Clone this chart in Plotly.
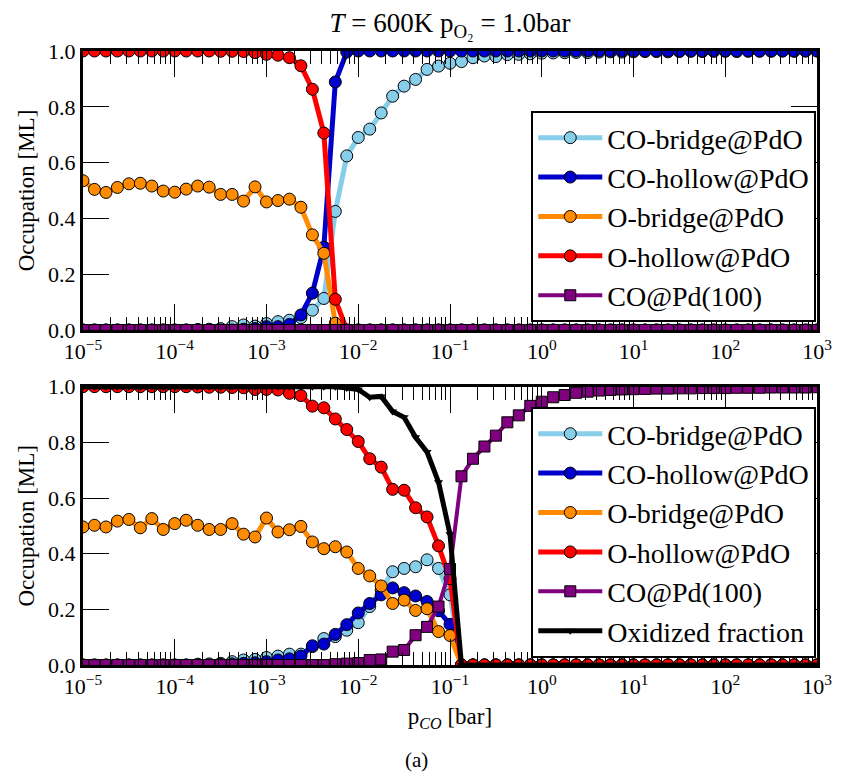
import plotly.graph_objects as go

# ---------------- data ----------------
log10_p_co = [
    -5.000, -4.875, -4.750, -4.625, -4.500, -4.375, -4.250, -4.125,
    -4.000, -3.875, -3.750, -3.625, -3.500, -3.375, -3.250, -3.125,
    -3.000, -2.875, -2.750, -2.625, -2.500, -2.375, -2.250, -2.125,
    -2.000, -1.875, -1.750, -1.625, -1.500, -1.375, -1.250, -1.125,
    -1.000, -0.875, -0.750, -0.625, -0.500, -0.375, -0.250, -0.125,
    0.000, 0.125, 0.250, 0.375, 0.500, 0.625, 0.750, 0.875,
    1.000, 1.125, 1.250, 1.375, 1.500, 1.625, 1.750, 1.875,
    2.000, 2.125, 2.250, 2.375, 2.500, 2.625, 2.750, 2.875,
    3.000,
]
p_co = [10 ** e for e in log10_p_co]

# top panel
co_bridge_top = [
    0.0, 0.0, 0.0, 0.0, 0.0, 0.0, 0.0, 0.0, 0.0, 0.0,
    0.002, 0.003, 0.005, 0.012, 0.018, 0.014, 0.023, 0.030, 0.035, 0.044,
    0.071, 0.113, 0.425, 0.624, 0.690, 0.720, 0.778, 0.838, 0.874, 0.898,
    0.934, 0.946, 0.956, 0.962, 0.976, 0.982, 0.980, 0.987, 0.988, 0.990,
    0.992, 0.993, 0.994, 0.995, 0.994, 0.996, 0.997, 0.996, 0.997, 0.998,
    0.998, 0.997, 0.998, 0.999, 0.998, 0.999, 0.999, 0.998, 0.999, 0.999,
    0.999, 1.000, 0.999, 1.000, 1.000,
]
co_hollow_top = [
    0.0, 0.0, 0.0, 0.0, 0.0, 0.0, 0.0, 0.0, 0.0, 0.0,
    0.0, 0.0, 0.0, 0.0, 0.003, 0.005, 0.012, 0.012, 0.020, 0.054,
    0.132, 0.297, 0.889, 0.996, 1.0, 1.0, 1.0, 1.0, 1.0, 1.0,
    1.0, 1.0, 1.0, 1.0, 1.0, 1.0, 1.0, 1.0, 1.0, 1.0,
    1.0, 1.0, 1.0, 1.0, 1.0, 1.0, 1.0, 1.0, 1.0, 1.0,
    1.0, 1.0, 1.0, 1.0, 1.0, 1.0, 1.0, 1.0, 1.0, 1.0,
    1.0, 1.0, 1.0, 1.0, 1.0,
]
o_bridge_top = [
    0.535, 0.504, 0.493, 0.511, 0.524, 0.526, 0.516, 0.498, 0.494, 0.505,
    0.516, 0.512, 0.486, 0.486, 0.462, 0.513, 0.459, 0.464, 0.469, 0.440,
    0.341, 0.275, 0.024, 0.0, 0.0, 0.0, 0.0, 0.0, 0.0, 0.0,
    0.0, 0.0, 0.0, 0.0, 0.0, 0.0, 0.0, 0.0, 0.0, 0.0,
    0.0, 0.0, 0.0, 0.0, 0.0, 0.0, 0.0, 0.0, 0.0, 0.0,
    0.0, 0.0, 0.0, 0.0, 0.0, 0.0, 0.0, 0.0, 0.0, 0.0,
    0.0, 0.0, 0.0, 0.0, 0.0,
]
o_hollow_top = [
    1.0, 1.0, 1.0, 1.0, 1.0, 1.0, 1.0, 1.0, 1.0, 1.0,
    1.0, 1.0, 0.999, 0.999, 0.998, 0.994, 0.988, 0.985, 0.976, 0.947,
    0.863, 0.706, 0.110, 0.0, 0.0, 0.0, 0.0, 0.0, 0.0, 0.0,
    0.0, 0.0, 0.0, 0.0, 0.0, 0.0, 0.0, 0.0, 0.0, 0.0,
    0.0, 0.0, 0.0, 0.0, 0.0, 0.0, 0.0, 0.0, 0.0, 0.0,
    0.0, 0.0, 0.0, 0.0, 0.0, 0.0, 0.0, 0.0, 0.0, 0.0,
    0.0, 0.0, 0.0, 0.0, 0.0,
]
co_pd_top = [
    0.0, 0.0, 0.0, 0.0, 0.0, 0.0, 0.0, 0.0, 0.0, 0.0,
    0.0, 0.0, 0.0, 0.0, 0.0, 0.0, 0.0, 0.0, 0.0, 0.0,
    0.0, 0.0, 0.0, 0.0, 0.0, 0.0, 0.0, 0.0, 0.0, 0.0,
    0.0, 0.0, 0.0, 0.0, 0.0, 0.0, 0.0, 0.0, 0.0, 0.0,
    0.0, 0.0, 0.0, 0.0, 0.0, 0.0, 0.0, 0.0, 0.0, 0.0,
    0.0, 0.0, 0.0, 0.0, 0.0, 0.0, 0.0, 0.0, 0.0, 0.0,
    0.0, 0.0, 0.0, 0.0, 0.0,
]

# bottom panel
co_bridge_bot = [
    0.0, 0.0, 0.0, 0.0, 0.0, 0.0, 0.0, 0.0, 0.0, 0.0,
    0.003, 0.004, 0.006, 0.012, 0.018, 0.020, 0.027, 0.032, 0.039, 0.039,
    0.066, 0.095, 0.102, 0.125, 0.152, 0.210, 0.270, 0.335, 0.347, 0.353,
    0.378, 0.347, 0.252, 0.0, 0.0, 0.0, 0.0, 0.0, 0.0, 0.0,
    0.0, 0.0, 0.0, 0.0, 0.0, 0.0, 0.0, 0.0, 0.0, 0.0,
    0.0, 0.0, 0.0, 0.0, 0.0, 0.0, 0.0, 0.0, 0.0, 0.0,
    0.0, 0.0, 0.0, 0.0, 0.0,
]
co_hollow_bot = [
    0.0, 0.0, 0.0, 0.0, 0.0, 0.0, 0.0, 0.0, 0.0, 0.0,
    0.0, 0.0, 0.002, 0.004, 0.006, 0.008, 0.012, 0.018, 0.022, 0.032,
    0.069, 0.075, 0.110, 0.145, 0.187, 0.221, 0.252, 0.277, 0.260, 0.248,
    0.228, 0.195, 0.146, 0.0, 0.0, 0.0, 0.0, 0.0, 0.0, 0.0,
    0.0, 0.0, 0.0, 0.0, 0.0, 0.0, 0.0, 0.0, 0.0, 0.0,
    0.0, 0.0, 0.0, 0.0, 0.0, 0.0, 0.0, 0.0, 0.0, 0.0,
    0.0, 0.0, 0.0, 0.0, 0.0,
]
o_bridge_bot = [
    0.496, 0.502, 0.496, 0.517, 0.523, 0.493, 0.526, 0.487, 0.508, 0.520,
    0.502, 0.487, 0.487, 0.508, 0.470, 0.460, 0.528, 0.478, 0.486, 0.498,
    0.442, 0.418, 0.425, 0.406, 0.347, 0.320, 0.284, 0.221, 0.233, 0.196,
    0.202, 0.120, 0.106, 0.0, 0.0, 0.0, 0.0, 0.0, 0.0, 0.0,
    0.0, 0.0, 0.0, 0.0, 0.0, 0.0, 0.0, 0.0, 0.0, 0.0,
    0.0, 0.0, 0.0, 0.0, 0.0, 0.0, 0.0, 0.0, 0.0, 0.0,
    0.0, 0.0, 0.0, 0.0, 0.0,
]
o_hollow_bot = [
    1.0, 1.0, 1.0, 1.0, 1.0, 1.0, 1.0, 1.0, 1.0, 1.0,
    0.999, 0.998, 0.998, 0.997, 0.996, 0.990, 0.990, 0.988, 0.976, 0.968,
    0.930, 0.924, 0.884, 0.846, 0.803, 0.741, 0.711, 0.631, 0.628, 0.565,
    0.532, 0.428, 0.310, 0.0, 0.0, 0.0, 0.0, 0.0, 0.0, 0.0,
    0.0, 0.0, 0.0, 0.0, 0.0, 0.0, 0.0, 0.0, 0.0, 0.0,
    0.0, 0.0, 0.0, 0.0, 0.0, 0.0, 0.0, 0.0, 0.0, 0.0,
    0.0, 0.0, 0.0, 0.0, 0.0,
]
co_pd_bot = [
    0.0, 0.0, 0.0, 0.0, 0.0, 0.0, 0.0, 0.0, 0.0, 0.0,
    0.0, 0.0, 0.0, 0.0, 0.0, 0.0, 0.0, 0.0, 0.0, 0.0,
    0.0, 0.0, 0.003, 0.005, 0.007, 0.018, 0.020, 0.048, 0.054, 0.107,
    0.137, 0.210, 0.345, 0.678, 0.741, 0.785, 0.824, 0.872, 0.897, 0.931,
    0.946, 0.962, 0.970, 0.978, 0.982, 0.986, 0.988, 0.990, 0.991, 0.992,
    0.993, 0.993, 0.994, 0.994, 0.995, 0.995, 0.995, 0.996, 0.996, 0.996,
    0.997, 0.997, 0.997, 0.997, 0.998,
]
ox_frac_bot = [
    1.0, 1.0, 1.0, 1.0, 1.0, 1.0, 1.0, 1.0, 1.0, 1.0,
    1.0, 1.0, 1.0, 1.0, 1.0, 1.0, 1.0, 1.0, 1.0, 1.0,
    1.0, 1.0, 1.0, 0.995, 0.990, 0.962, 0.965, 0.911, 0.890, 0.818,
    0.765, 0.657, 0.470, 0.0, 0.0, 0.0, 0.0, 0.0, 0.0, 0.0,
    0.0, 0.0, 0.0, 0.0, 0.0, 0.0, 0.0, 0.0, 0.0, 0.0,
    0.0, 0.0, 0.0, 0.0, 0.0, 0.0, 0.0, 0.0, 0.0, 0.0,
    0.0, 0.0, 0.0, 0.0, 0.0,
]

series_names = ["CO-bridge@PdO", "CO-hollow@PdO", "O-bridge@PdO",
                "O-hollow@PdO", "CO@Pd(100)", "Oxidized fraction"]
x_tick_exps = [-5, -4, -3, -2, -1, 0, 1, 2, 3]
y_tick_vals = [0.0, 0.2, 0.4, 0.6, 0.8, 1.0]

# ---------------- styles ----------------
FONT = "'Liberation Serif', 'DejaVu Serif', 'Times New Roman', Times, serif"
colors = ["#87CEEB", "#0000CC", "#FF8C00", "#FF0000", "#800080", "#000000"]
symbols = ["circle", "circle", "circle", "circle", "square", "triangle-down"]
line_w = [5, 5, 5, 5, 4, 5]
mk_size = [12, 12, 12, 12, 11, 8]

fig = go.Figure()

top_sets = [co_bridge_top, co_hollow_top, o_bridge_top, o_hollow_top, co_pd_top]
bot_sets = [co_bridge_bot, co_hollow_bot, o_bridge_bot, o_hollow_bot, co_pd_bot, ox_frac_bot]

for k, ys in enumerate(top_sets):
    fig.add_trace(go.Scatter(
        x=p_co, y=ys, name=series_names[k], mode="lines+markers",
        xaxis="x", yaxis="y", legend="legend", legendgroup="t%d" % k,
        line=dict(color=colors[k], width=line_w[k]),
        marker=dict(symbol=symbols[k], size=mk_size[k], color=colors[k],
                    line=dict(color="black", width=1)),
    ))
for k, ys in enumerate(bot_sets):
    mline = dict(color="black", width=1) if k < 5 else dict(color="black", width=0)
    fig.add_trace(go.Scatter(
        x=p_co, y=ys, name=series_names[k], mode="lines+markers",
        xaxis="x2", yaxis="y2", legend="legend2", legendgroup="b%d" % k,
        line=dict(color=colors[k], width=line_w[k]),
        marker=dict(symbol=symbols[k], size=mk_size[k], color=colors[k], line=mline),
    ))

x_minor_vals = [m * 10.0 ** d for d in range(-5, 3) for m in range(2, 10)]
x_ticktext = ["10<sup>%s</sup>" % (str(e).replace("-", "\u2212")) for e in x_tick_exps]

xaxis_common = dict(
    type="log", range=[-5, 3], domain=[0, 1],
    tickvals=[10.0 ** e for e in x_tick_exps], ticktext=x_ticktext,
    ticks="inside", ticklen=26, tickwidth=1.3, tickcolor="black",
    showline=True, linewidth=3, linecolor="black", mirror="ticks",
    showgrid=False, zeroline=False,
    tickfont=dict(family=FONT, size=22, color="black"),
    minor=dict(tickvals=x_minor_vals, ticks="inside", ticklen=13,
               tickwidth=1.1, tickcolor="black", showgrid=False),
)
yaxis_common = dict(
    range=[0, 1], tickvals=y_tick_vals, ticktext=["%.1f" % v for v in y_tick_vals],
    ticks="inside", ticklen=26, tickwidth=1.3, tickcolor="black",
    showline=True, linewidth=3, linecolor="black", mirror="ticks",
    showgrid=False, zeroline=False,
    tickfont=dict(family=FONT, size=22, color="black"),
    title=dict(text="Occupation [ML]", font=dict(family=FONT, size=23, color="black"),
               standoff=8),
)

legend_common = dict(
    bgcolor="white", bordercolor="black", borderwidth=2,
    font=dict(family=FONT, size=28, color="black"),
    xanchor="right", yanchor="bottom", traceorder="grouped", tracegroupgap=0,
    itemwidth=64,
)

# the page body adds an 8 px offset, so the figure is 8 px smaller on each axis
fig.update_layout(
    width=836, height=770,
    margin=dict(l=75, r=16, t=43, b=113),
    paper_bgcolor="white", plot_bgcolor="white",
    showlegend=True,
    title=dict(text="<i>T</i> = 600K p<sub>O\u2082</sub> = 1.0bar",
               x=0.5, xref="paper", y=0.981, yref="container",
               xanchor="center", yanchor="middle",
               font=dict(family=FONT, size=27, color="black")),
    xaxis=dict(anchor="y", **xaxis_common),
    xaxis2=dict(anchor="y2",
                title=dict(text="p<sub><i>CO</i></sub> [bar]",
                           font=dict(family=FONT, size=23, color="black"), standoff=10),
                **xaxis_common),
    yaxis=dict(anchor="x", domain=[0.5456, 1.0], **yaxis_common),
    yaxis2=dict(anchor="x2", domain=[0.0, 0.4533], **yaxis_common),
    legend=dict(x=0.999, y=0.5587, **legend_common),
    legend2=dict(x=0.999, y=0.0114, **legend_common),
    annotations=[dict(text="(a)", xref="paper", yref="paper", x=0.455, y=-0.1547,
                      xanchor="center", yanchor="middle", showarrow=False,
                      font=dict(family=FONT, size=21, color="black"))],
)

fig.write_html("out.html")
